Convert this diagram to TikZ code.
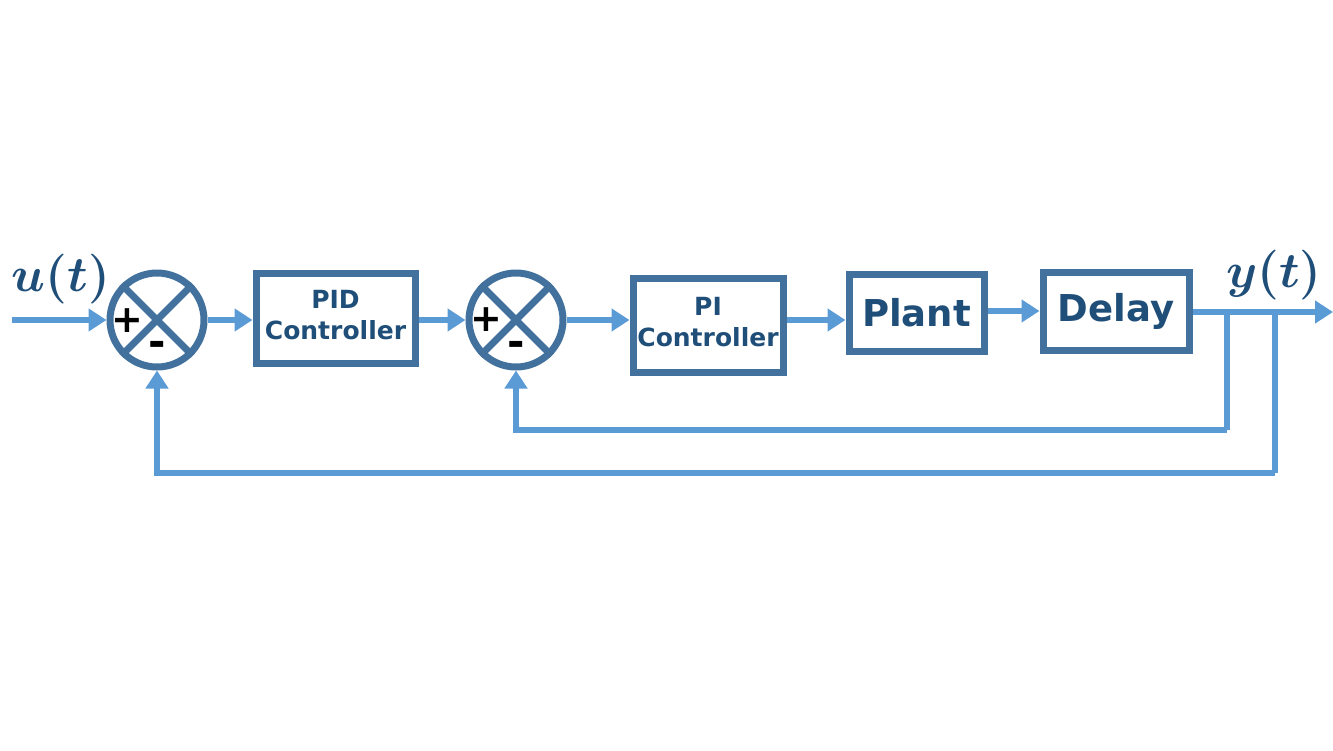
\documentclass[tikz,border=0pt]{standalone}
\usepackage{fontspec}
\usepackage{amsmath}
\usepackage{bm}
\usetikzlibrary{calc, positioning, arrows.meta}
\newfontfamily\blockfont{DejaVu Sans}[BoldFont={DejaVu Sans Bold}]
\definecolor{boxblue}{HTML}{41719C}
\definecolor{lineblue}{HTML}{5B9BD5}
\definecolor{textblue}{HTML}{1F4E79}
\tikzset{block/.style={draw=boxblue, line width=3.5pt, rectangle, inner sep=0pt, align=center, text=textblue, font=\blockfont\bfseries\fontsize{12.5}{15.5}\selectfont},
sumnode/.style={draw=boxblue, line width=3.5pt, circle, minimum size=47pt, inner sep=0pt},
sign/.style={font=\blockfont\bfseries\fontsize{19}{19}\selectfont, text=black, inner sep=0pt},
signal/.style={draw=lineblue, line width=3pt, -{Triangle[length=9pt,width=11pt]}},
wire/.style={draw=lineblue, line width=3pt},
%math labels of the signals
siglabel/.style={text=textblue, font=\fontsize{30}{32}\selectfont, inner sep=0pt}}

\begin{document}
\begin{tikzpicture}[x=0.5pt,y=-0.5pt]
 \useasboundingbox (0,0) rectangle (1333,750);

 %Drawing summing junctions
 \node[sumnode] (sum1) at (157,320) {};
 \draw[boxblue, line width=3.5pt] (sum1.north west) -- (sum1.south east);
 \draw[boxblue, line width=3.5pt] (sum1.north east) -- (sum1.south west);
 \node[sign] (plus1) at (127,321) {+};
 \node[sign, font=\blockfont\bfseries\fontsize{21}{21}\selectfont] (minus1) at (157,349) {-};

 \node[sumnode] (sum2) at (516,320) {};
 \draw[boxblue, line width=3.5pt] (sum2.north west) -- (sum2.south east);
 \draw[boxblue, line width=3.5pt] (sum2.north east) -- (sum2.south west);
 \node[sign] (plus2) at (486,320) {+};
 \node[sign, font=\blockfont\bfseries\fontsize{21}{21}\selectfont] (minus2) at (516,349) {-};

 %Drawing blocks
 \node[block, minimum width=79.5pt, minimum height=45pt] (pid) at (335.5,318) {\raisebox{-1pt}{\begin{tabular}{@{}c@{}}PID\\Controller\end{tabular}}};
 \node[block, minimum width=75pt, minimum height=47pt] (pi) at (708,325) {\raisebox{5pt}{\begin{tabular}{@{}c@{}}PI\\Controller\end{tabular}}};
 \node[block, minimum width=67.5pt, minimum height=38.5pt, font=\blockfont\bfseries\fontsize{18.5}{20}\selectfont] (plant) at (916.5,312.5) {Plant};
 \node[block, minimum width=73pt, minimum height=39pt, font=\blockfont\bfseries\fontsize{18.5}{20}\selectfont] (delay) at (1116,311) {Delay};

 %Signals
 \coordinate (input) at (12,320);
 \coordinate (output) at (1333,312);
 \node[siglabel] (ulabel) at (61,279) {$\bm{u}\boldsymbol{(}\bm{t}\boldsymbol{)}$};
 \node[siglabel] (ylabel) at (1274,275) {$\bm{y}\boldsymbol{(}\bm{t}\boldsymbol{)}$};

 \draw[signal] (input) -- (sum1.west);
 \draw[signal] (sum1.east) -- (pid.west |- sum1.east);
 \draw[signal] (pid.east |- sum2.west) -- (sum2.west);
 \draw[signal] (sum2.east) -- (pi.west |- sum2.east);
 \draw[signal] (pi.east |- sum2.east) -- (plant.west |- sum2.east);
 \draw[signal] (plant.east |- delay.east) -- (delay.west);
 \draw[signal] (delay.east |- output) -- (output);

 %Feedback paths
 \coordinate (tap1) at (1227,312);
 \coordinate (corner1) at (1227,430);
 \coordinate (tap2) at (1275,312);
 \coordinate (corner2) at (1275,473);
 \draw[wire] (tap1) -- (corner1);
 \draw[signal] (corner1) -| (sum2.south);
 \draw[wire] (tap2) -- (corner2);
 \draw[signal] (corner2) -| (sum1.south);

\end{tikzpicture}
\end{document}
